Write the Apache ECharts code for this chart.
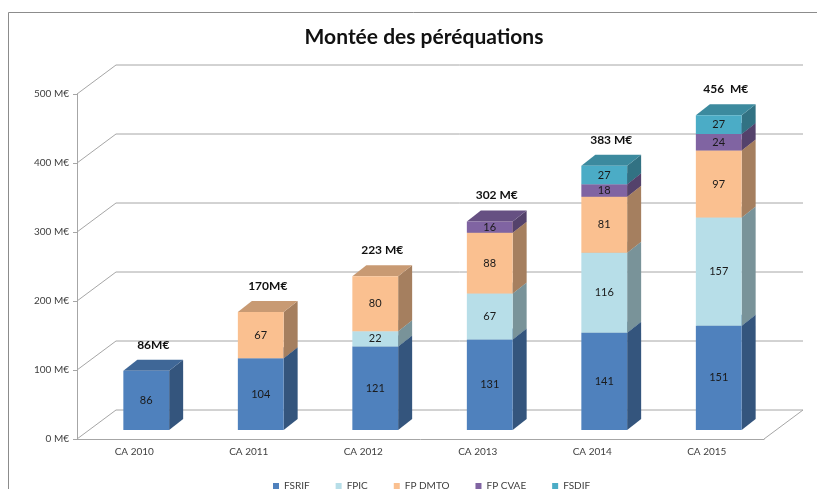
<!DOCTYPE html>
<html>
<head>
<meta charset="utf-8">
<script src="https://cdn.jsdelivr.net/npm/echarts@6/dist/echarts.min.js"></script>
<style>
  html, body { margin: 0; padding: 0; background: #fff; }
  #chart { width: 817px; height: 489px; }
</style>
</head>
<body>
<div id="chart"></div>
<script>
const categories = ['CA 2010', 'CA 2011', 'CA 2012', 'CA 2013', 'CA 2014', 'CA 2015']
const fsrif = [86, 104, 121, 131, 141, 151]
const fpic = [0, 0, 22, 67, 116, 157]
const fpDmto = [0, 67, 80, 88, 81, 97]
const fpCvae = [0, 0, 0, 16, 18, 24]
const fsdif = [0, 0, 0, 0, 27, 27]
const totalLabels = ['86M€', '170M€', '223 M€', '302 M€', '383 M€', '456  M€']
const yTicks = [0, 100, 200, 300, 400, 500]

const FONT = 'Lato, "Open Sans", sans-serif'
// oblique 3D offsets (px)
const WALL_DX = 39, WALL_DY = 29
const BAR_OX = 12, BAR_OY = 9
const BAR_DX = 14, BAR_DY = 11

const seriesDefs = [
  { name: 'FSRIF', data: fsrif, color: '#4F81BD' },
  { name: 'FPIC', data: fpic, color: '#B7DEE8' },
  { name: 'FP DMTO', data: fpDmto, color: '#FAC090' },
  { name: 'FP CVAE', data: fpCvae, color: '#8064A2' },
  { name: 'FSDIF', data: fsdif, color: '#4BACC6' },
]

// darken a #rrggbb colour by a factor
const shade = (hex, k) => {
  const n = parseInt(hex.slice(1), 16)
  const r = Math.round(((n >> 16) & 255) * k)
  const g = Math.round(((n >> 8) & 255) * k)
  const b = Math.round((n & 255) * k)
  return `rgb(${r},${g},${b})`
}

const boxRenderer = (color) => (params, api) => {
  const v = api.value(1)
  if (!v) return
  const i = api.value(0)
  const base = api.value(2)
  const pt = api.coord([i, base + v])
  const pb = api.coord([i, base])
  const band = api.size([1, 0])[0]
  const bw = band * 0.4
  const x0 = pt[0] - bw / 2 + BAR_OX
  const x1 = x0 + bw
  const yt = pt[1] - BAR_OY
  const yb = pb[1] - BAR_OY
  return {
    type: 'group',
    children: [
      { type: 'polygon', shape: { points: [[x1, yb], [x1 + BAR_DX, yb - BAR_DY], [x1 + BAR_DX, yt - BAR_DY], [x1, yt]] }, style: { fill: shade(color, 0.66) } },
      { type: 'polygon', shape: { points: [[x0, yt], [x1, yt], [x1 + BAR_DX, yt - BAR_DY], [x0 + BAR_DX, yt - BAR_DY]] }, style: { fill: shade(color, 0.8) } },
      { type: 'rect', shape: { x: x0, y: yt, width: bw, height: yb - yt }, style: { fill: color } },
      {
        type: 'text',
        style: {
          text: String(v), x: (x0 + x1) / 2, y: (yt + yb) / 2,
          align: 'center', verticalAlign: 'middle',
          fill: '#1a1a1a', fontSize: 11, fontFamily: FONT,
        },
      },
    ],
  }
}

const bases = categories.map(() => 0)
const barSeries = seriesDefs.map((s) => {
  const data = s.data.map((v, i) => {
    const item = [i, v, bases[i]]
    bases[i] += v
    return item
  })
  return {
    name: s.name,
    type: 'custom',
    z: 3,
    itemStyle: { color: s.color },
    encode: { x: 0, y: 1 },
    renderItem: boxRenderer(s.color),
    data,
  }
})

const wallSeries = {
  type: 'custom',
  z: 1,
  silent: true,
  encode: { x: 0, y: 1 },
  data: yTicks.map((t) => [0, t]),
  renderItem: (params, api) => {
    const cs = params.coordSys
    const y = api.coord([0, api.value(1)])[1]
    const left = cs.x
    const right = cs.x + cs.width
    const children = [
      { type: 'polyline', shape: { points: [[left, y], [left + WALL_DX, y - WALL_DY], [right + WALL_DX, y - WALL_DY]] }, style: { stroke: '#a6a6a6', lineWidth: 1, fill: null } },
    ]
    if (api.value(1) === 0) {
      children.push({ type: 'line', shape: { x1: right, y1: y, x2: right + WALL_DX, y2: y - WALL_DY }, style: { stroke: '#a6a6a6', lineWidth: 1 } })
    }
    return { type: 'group', children }
  },
}

const totalSeries = {
  type: 'custom',
  z: 4,
  silent: true,
  encode: { x: 0, y: 1 },
  data: bases.map((t, i) => [i, t]),
  renderItem: (params, api) => {
    const i = api.value(0)
    const p = api.coord([i, api.value(1)])
    return {
      type: 'text',
      style: {
        text: totalLabels[i], x: p[0] + BAR_OX + BAR_DX / 2, y: p[1] - BAR_OY - BAR_DY - 15,
        align: 'center', verticalAlign: 'middle',
        fill: '#111', fontSize: 12, fontWeight: 'bold', fontFamily: FONT,
      },
    }
  },
}

const chart = echarts.init(document.getElementById('chart'))
chart.setOption({
  animation: false,
  backgroundColor: '#fff',
  title: {
    text: 'Montée des péréquations',
    left: 419,
    top: 22,
    textAlign: 'center',
    textStyle: { fontSize: 21, fontWeight: 'bold', color: '#111', fontFamily: FONT },
  },
  graphic: [
    { type: 'rect', shape: { x: 8.5, y: 12.5, width: 900, height: 600 }, style: { fill: null, stroke: '#8c8c8c', lineWidth: 1 }, z: -1 },
  ],
  legend: {
    left: 268,
    top: 476,
    icon: 'rect',
    itemWidth: 6,
    itemHeight: 6,
    itemGap: 26,
    textStyle: { fontSize: 10, color: '#404040', fontFamily: FONT },
    data: seriesDefs.map((s) => s.name),
  },
  grid: { left: 77, right: 53, top: 94, bottom: 50 },
  xAxis: {
    type: 'category',
    data: categories,
    axisLine: { lineStyle: { color: '#a6a6a6' } },
    axisTick: { length: 4, lineStyle: { color: '#a6a6a6' } },
    axisLabel: { color: '#404040', fontSize: 10, margin: 8, fontFamily: FONT },
  },
  yAxis: {
    type: 'value',
    min: 0,
    max: 500,
    interval: 100,
    splitLine: { show: false },
    axisLine: { show: true, lineStyle: { color: '#a6a6a6' } },
    axisTick: { show: true, length: 4, lineStyle: { color: '#a6a6a6' } },
    axisLabel: { color: '#404040', fontSize: 10, margin: 8, fontFamily: FONT, formatter: '{value} M€' },
  },
  series: [wallSeries, ...barSeries, totalSeries],
})
</script>
</body>
</html>
